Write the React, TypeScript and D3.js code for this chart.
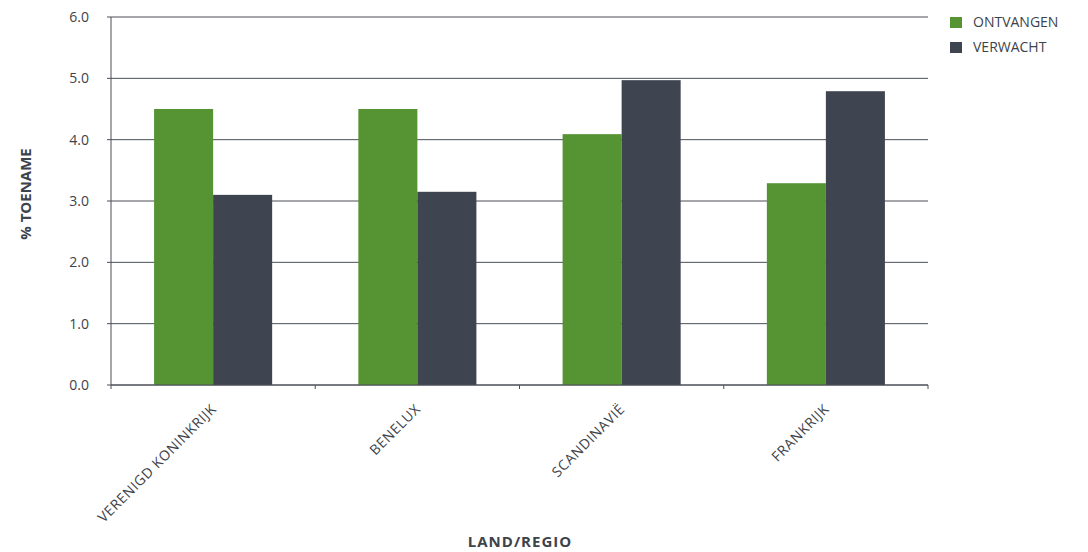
import React from "react";
import * as d3 from "d3";

const categories = ["VERENIGD KONINKRIJK", "BENELUX", "SCANDINAVIË", "FRANKRIJK"];
const seriesNames = ["ONTVANGEN", "VERWACHT"];
const ontvangen = [4.5, 4.5, 4.09, 3.29];
const verwacht = [3.1, 3.15, 4.97, 4.79];
const yTicks = [0, 1, 2, 3, 4, 5, 6];
const colors = ["#559333", "#3e4550"];

const W = 1088, H = 552;
const M = { left: 111, right: 928, top: 17, bottom: 385 };
const FONT = "'Open Sans', 'Noto Sans', sans-serif";
const TXT = "#3d434b";

export default function App() {
  const x = d3.scaleBand<string>().domain(categories).range([M.left, M.right]).paddingInner(0).paddingOuter(0);
  const inner = d3.scaleBand<string>().domain(seriesNames).range([0, x.bandwidth()]).paddingInner(0).paddingOuter(0.73);
  const y = d3.scaleLinear().domain([0, 6]).range([M.bottom, M.top]);
  const series = [ontvangen, verwacht];
  const boundaries = [...categories.map((c) => x(c) as number), M.right];

  return (
    <svg width={W} height={H} style={{ position: "absolute", left: 0, top: 0, background: "#fff" }}>
      {yTicks.map((t) => (
        <g key={t}>
          <line x1={M.left - 4} x2={M.right} y1={y(t)} y2={y(t)} stroke="#4a4f57" strokeWidth={1} />
          <text x={89} y={y(t)} dy="0.35em" textAnchor="end" fontFamily={FONT} fontSize={14} fill={TXT}>
            {t.toFixed(1)}
          </text>
        </g>
      ))}
      {categories.map((c, i) =>
        series.map((s, j) => (
          <rect
            key={c + j}
            x={(x(c) as number) + (inner(seriesNames[j]) as number)}
            y={y(s[i])}
            width={inner.bandwidth()}
            height={y(0) - y(s[i])}
            fill={colors[j]}
          />
        ))
      )}
      <line x1={M.left} x2={M.left} y1={M.top} y2={M.bottom} stroke="#4a4f57" />
      <line x1={M.left} x2={M.right} y1={M.bottom} y2={M.bottom} stroke="#4a4f57" />
      {boundaries.map((b, i) => (
        <line key={i} x1={b} x2={b} y1={M.bottom} y2={M.bottom + 4} stroke="#4a4f57" />
      ))}
      {categories.map((c) => {
        const cx = (x(c) as number) + x.bandwidth() / 2;
        return (
          <text
            key={c}
            transform={`translate(${cx + 4},${M.bottom + 25}) rotate(-45)`}
            textAnchor="end"
            fontFamily={FONT}
            fontSize={14}
            letterSpacing={0.6}
            fill={TXT}
          >
            {c}
          </text>
        );
      })}
      <text x={520} y={547} textAnchor="middle" fontFamily={FONT} fontSize={15} fontWeight="bold" letterSpacing={1} fill={TXT}>
        LAND/REGIO
      </text>
      <text
        transform={`translate(31,194) rotate(-90)`}
        textAnchor="middle"
        fontFamily={FONT}
        fontSize={15}
        fontWeight="bold"
        fill={TXT}
      >
        % TOENAME
      </text>
      {seriesNames.map((n, i) => (
        <g key={n} transform={`translate(950,${17 + i * 25})`}>
          <rect width={12} height={11} fill={colors[i]} />
          <text x={23} y={5.5} dy="0.35em" fontFamily={FONT} fontSize={14} fill={TXT}>
            {n}
          </text>
        </g>
      ))}
    </svg>
  );
}
